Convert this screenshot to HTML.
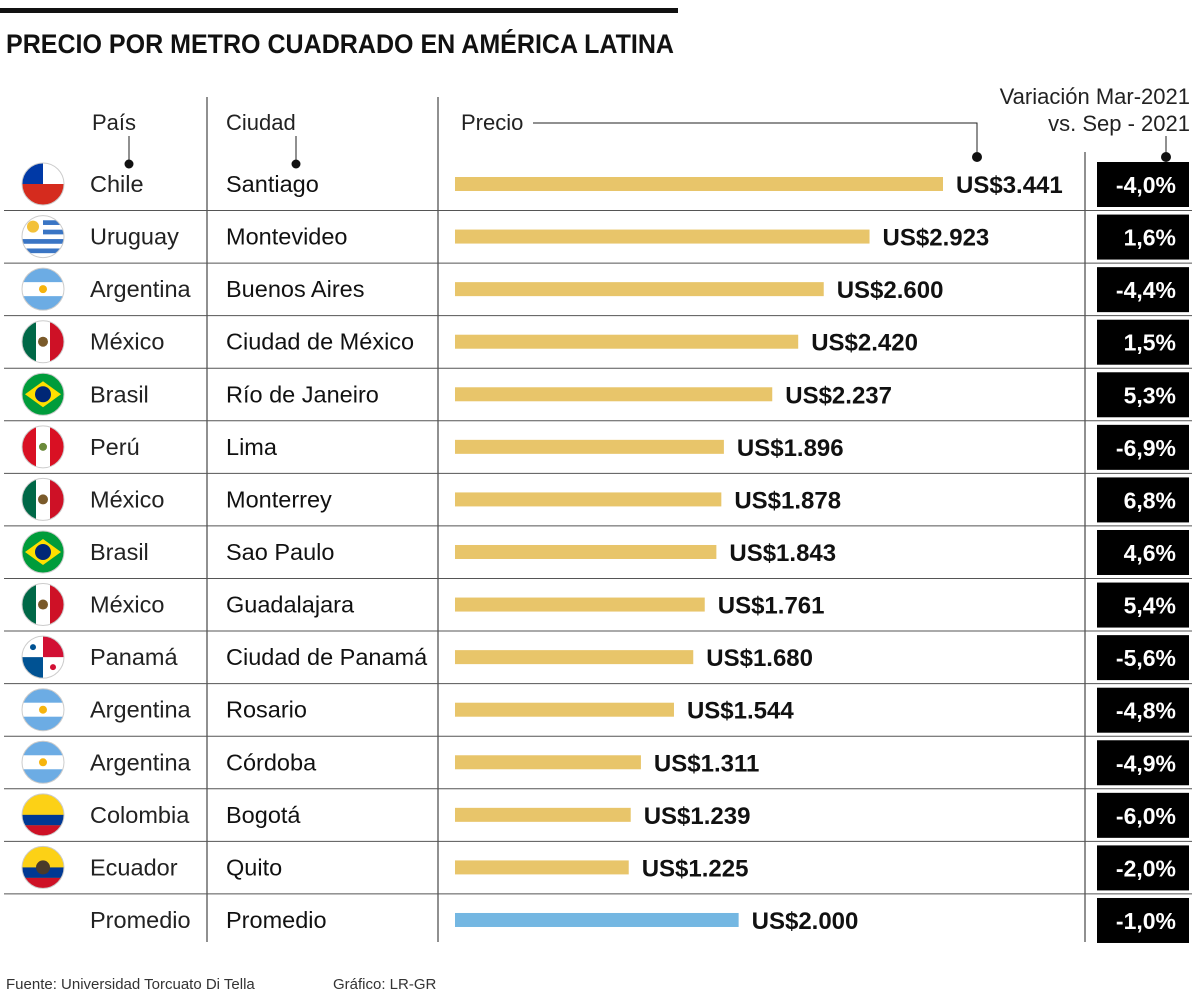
<!DOCTYPE html>
<html><head><meta charset="utf-8"><style>
body{margin:0;background:#fff;}
svg{display:block;font-family:"Liberation Sans",sans-serif;}
</style></head><body>
<svg id="chart" width="1200" height="993" viewBox="0 0 1200 993">
<rect x="0" y="8" width="678" height="5" fill="#111"/>
<text x="6" y="53" font-size="27" font-weight="bold" fill="#111" textLength="668" lengthAdjust="spacingAndGlyphs">PRECIO POR METRO CUADRADO EN AMÉRICA LATINA</text>
<g id="header" fill="#222" font-size="22">
<text x="92" y="130">País</text>
<text x="226" y="130">Ciudad</text>
<text x="461" y="130">Precio</text>
<text x="1190" y="104" text-anchor="end">Variación Mar-2021</text>
<text x="1190" y="131" text-anchor="end">vs. Sep - 2021</text>
</g>
<g stroke="#222" stroke-width="1" fill="none">
<line x1="129" y1="136" x2="129" y2="163"/><line x1="296" y1="136" x2="296" y2="163"/>
<polyline points="533,123 977,123 977,156"/><line x1="1166" y1="136" x2="1166" y2="156"/>
<line x1="207" y1="97" x2="207" y2="942"/><line x1="438" y1="97" x2="438" y2="942"/><line x1="1085" y1="152" x2="1085" y2="942"/>
</g>
<g fill="#111"><circle cx="129" cy="164" r="4.5"/><circle cx="296" cy="164" r="4.5"/><circle cx="977" cy="157" r="5"/><circle cx="1166" cy="157" r="5"/></g>
<g id="rows"></g>
<text x="6" y="989" font-size="15" fill="#333">Fuente: Universidad Torcuato Di Tella</text>
<text x="333" y="989" font-size="15" fill="#333">Gráfico: LR-GR</text>
</svg>
<script>
const countries=["Chile","Uruguay","Argentina","México","Brasil","Perú","México","Brasil","México","Panamá","Argentina","Argentina","Colombia","Ecuador","Promedio"];
const cities=["Santiago","Montevideo","Buenos Aires","Ciudad de México","Río de Janeiro","Lima","Monterrey","Sao Paulo","Guadalajara","Ciudad de Panamá","Rosario","Córdoba","Bogotá","Quito","Promedio"];
const prices=[3441,2923,2600,2420,2237,1896,1878,1843,1761,1680,1544,1311,1239,1225,2000];
const priceLabels=["US$3.441","US$2.923","US$2.600","US$2.420","US$2.237","US$1.896","US$1.878","US$1.843","US$1.761","US$1.680","US$1.544","US$1.311","US$1.239","US$1.225","US$2.000"];
const variations=["-4,0%","1,6%","-4,4%","1,5%","5,3%","-6,9%","6,8%","4,6%","5,4%","-5,6%","-4,8%","-4,9%","-6,0%","-2,0%","-1,0%"];
const NS="http://www.w3.org/2000/svg";
const g=document.getElementById('rows');
const x=v=>455+v*(488/3441);
const y=i=>184+i*52.57;
function el(t,a,txt){const e=document.createElementNS(NS,t);for(const k in a)e.setAttribute(k,a[k]);if(txt!=null)e.textContent=txt;g.appendChild(e);return e;}
function flag(name,cx,cy){
 const r=21,id='c'+Math.round(cy);
 const cp=document.createElementNS(NS,'clipPath');cp.setAttribute('id',id);
 const c=document.createElementNS(NS,'circle');c.setAttribute('cx',cx);c.setAttribute('cy',cy);c.setAttribute('r',r);cp.appendChild(c);g.appendChild(cp);
 const fg=el('g',{'clip-path':`url(#${id})`});
 
 
 const R=(xx,yy,w,h,f)=>{const e=document.createElementNS(NS,'rect');e.setAttribute('x',xx);e.setAttribute('y',yy);e.setAttribute('width',w);e.setAttribute('height',h);e.setAttribute('fill',f);fg.appendChild(e);};
 const C=(xx,yy,rr,f)=>{const e=document.createElementNS(NS,'circle');e.setAttribute('cx',xx);e.setAttribute('cy',yy);e.setAttribute('r',rr);e.setAttribute('fill',f);fg.appendChild(e);};
 const L=cx-r,T=cy-r,W=2*r;
 if(name==="Chile"){R(L,T,W,W,'#fff');R(L,cy,W,r,'#d52b1e');R(L,T,r,r,'#0039a6');}
 else if(name==="Uruguay"){R(L,T,W,W,'#fff');for(let k=0;k<4;k++)R(L,T+4.7*(2*k+1),W,4.7,'#3a75c4');R(L,T,r,r,'#fff');C(cx-10,cy-10,6,'#f3c13a');}
 else if(name==="Argentina"){R(L,T,W,W,'#fff');R(L,T,W,14,'#6cace4');R(L,cy+7,W,14,'#6cace4');C(cx,cy,4,'#f6b40e');}
 else if(name==="México"){R(L,T,W,W,'#fff');R(L,T,14,W,'#006847');R(cx+7,T,14,W,'#ce1126');C(cx,cy,5,'#7a5a2a');}
 else if(name==="Brasil"){R(L,T,W,W,'#009c3b');const p=document.createElementNS(NS,'polygon');p.setAttribute('points',`${cx-18},${cy} ${cx},${cy-13} ${cx+18},${cy} ${cx},${cy+13}`);p.setAttribute('fill','#ffdf00');fg.appendChild(p);C(cx,cy,8,'#002776');}
 else if(name==="Perú"){R(L,T,W,W,'#fff');R(L,T,14,W,'#d91023');R(cx+7,T,14,W,'#d91023');C(cx,cy,4,'#6a8a3a');}
 else if(name==="Panamá"){R(L,T,W,W,'#fff');R(cx,T,r,r,'#d21034');R(L,cy,r,r,'#005293');C(cx-10,cy-10,3,'#005293');C(cx+10,cy+10,3,'#d21034');}
 else if(name==="Colombia"||name==="Ecuador"){R(L,T,W,W,'#fcd116');R(L,cy,W,10.5,'#003893');R(L,cy+10.5,W,10.5,'#ce1126');if(name==="Ecuador")C(cx,cy,7,'#4a3a2a');}
 el('circle',{cx:cx,cy:cy,r:r,fill:'none',stroke:'#ccc','stroke-width':1});
}
for(let i=0;i<countries.length;i++){
 const cy=y(i);
 if(i<countries.length-1){const ln=el('line',{x1:4,y1:cy+26.5,x2:1192,y2:cy+26.5,stroke:'#555','stroke-width':1});
  }
 if(countries[i]!=="Promedio")flag(countries[i],43,cy);
 const ct=el('text',{x:90,y:cy+8,'font-size':23.5,fill:'#222'},countries[i]);
 
 const cit=el('text',{x:226,y:cy+8,'font-size':23.5,fill:'#111'},cities[i]);
 
 const b=el('rect',{x:455,y:cy-7,width:x(prices[i])-455,height:14,fill:i===countries.length-1?'#74b7e2':'#e8c56a'});
 
 const pl=el('text',{x:x(prices[i])+13,y:cy+9,'font-size':24,'font-weight':'bold',fill:'#111'},priceLabels[i]);
 
 const vb=el('rect',{x:1097,y:cy-22,width:92,height:45,fill:'#000'});
 
 const vt=el('text',{x:1176,y:cy+9,'font-size':23,'font-weight':'bold',fill:'#fff','text-anchor':'end'},variations[i]);
 
}
</script>
</body></html>
